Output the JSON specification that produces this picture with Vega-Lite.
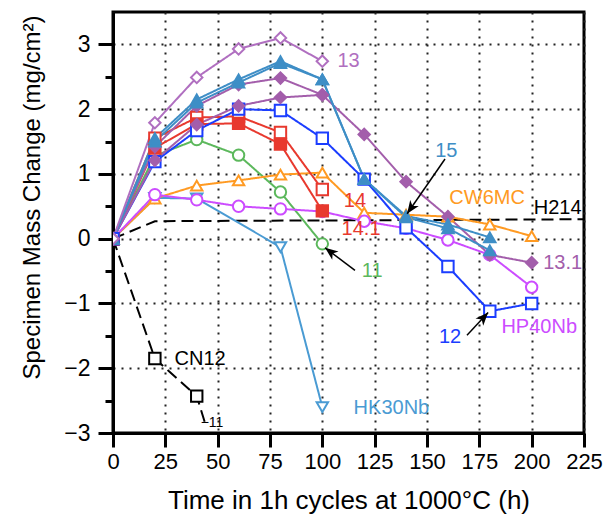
{
  "$schema": "https://vega.github.io/schema/vega-lite/v6.json",
  "width": 471,
  "height": 421,
  "autosize": {"type": "none"},
  "padding": {"left": 113, "top": 12, "right": 23, "bottom": 83},
  "background": "white",
  "config": {
    "view": {"stroke": "black", "strokeWidth": 3},
    "font": "Liberation Sans",
    "axis": {
      "domainColor": "black", "domainWidth": 3, "tickColor": "black", "tickWidth": 3,
      "labelColor": "black", "labelFont": "Liberation Sans", "labelFontSize": 23, "labelOverlap": false, "labelFlush": false,
      "titleFont": "Liberation Sans", "titleFontWeight": "normal", "titleColor": "black",
      "gridColor": "#222222", "gridDash": [2, 6], "gridWidth": 2, "gridOpacity": 1
    }
  },
  "datasets": {
    "d": [
      {"s": "H214", "x": 0, "y": 0}, {"s": "H214", "x": 20, "y": 0.27}, {"s": "H214", "x": 225, "y": 0.3},
      {"s": "CN12", "x": 0, "y": 0}, {"s": "CN12", "x": 20, "y": -1.85}, {"s": "CN12", "x": 40, "y": -2.43}, {"s": "CN12", "x": 44, "y": -2.85},
      {"s": "HK30Nb", "x": 0, "y": 0}, {"s": "HK30Nb", "x": 20, "y": 0.63}, {"s": "HK30Nb", "x": 40, "y": 0.62}, {"s": "HK30Nb", "x": 80, "y": -0.13}, {"s": "HK30Nb", "x": 100, "y": -2.6},
      {"s": "11", "x": 0, "y": 0}, {"s": "11", "x": 20, "y": 1.28}, {"s": "11", "x": 40, "y": 1.53}, {"s": "11", "x": 60, "y": 1.29}, {"s": "11", "x": 80, "y": 0.72}, {"s": "11", "x": 100, "y": -0.08},
      {"s": "CW6MC", "x": 0, "y": 0}, {"s": "CW6MC", "x": 20, "y": 0.62}, {"s": "CW6MC", "x": 40, "y": 0.82}, {"s": "CW6MC", "x": 60, "y": 0.9}, {"s": "CW6MC", "x": 80, "y": 0.99}, {"s": "CW6MC", "x": 100, "y": 1.02}, {"s": "CW6MC", "x": 120, "y": 0.4}, {"s": "CW6MC", "x": 140, "y": 0.37}, {"s": "CW6MC", "x": 160, "y": 0.34}, {"s": "CW6MC", "x": 180, "y": 0.22}, {"s": "CW6MC", "x": 200, "y": 0.04},
      {"s": "HP40Nb", "x": 0, "y": 0}, {"s": "HP40Nb", "x": 20, "y": 0.68}, {"s": "HP40Nb", "x": 40, "y": 0.6}, {"s": "HP40Nb", "x": 60, "y": 0.5}, {"s": "HP40Nb", "x": 80, "y": 0.46}, {"s": "HP40Nb", "x": 100, "y": 0.42}, {"s": "HP40Nb", "x": 120, "y": 0.27}, {"s": "HP40Nb", "x": 140, "y": 0.16}, {"s": "HP40Nb", "x": 160, "y": -0.02}, {"s": "HP40Nb", "x": 180, "y": -0.25}, {"s": "HP40Nb", "x": 200, "y": -0.75},
      {"s": "14", "x": 0, "y": 0}, {"s": "14", "x": 20, "y": 1.55}, {"s": "14", "x": 40, "y": 1.87}, {"s": "14", "x": 60, "y": 1.89}, {"s": "14", "x": 80, "y": 1.64}, {"s": "14", "x": 100, "y": 0.76},
      {"s": "14.1", "x": 0, "y": 0}, {"s": "14.1", "x": 20, "y": 1.4}, {"s": "14.1", "x": 40, "y": 1.77}, {"s": "14.1", "x": 60, "y": 1.78}, {"s": "14.1", "x": 80, "y": 1.46}, {"s": "14.1", "x": 100, "y": 0.43},
      {"s": "12", "x": 0, "y": 0}, {"s": "12", "x": 20, "y": 1.19}, {"s": "12", "x": 40, "y": 1.67}, {"s": "12", "x": 60, "y": 2.0}, {"s": "12", "x": 80, "y": 1.98}, {"s": "12", "x": 100, "y": 1.55}, {"s": "12", "x": 120, "y": 0.92}, {"s": "12", "x": 140, "y": 0.17}, {"s": "12", "x": 160, "y": -0.43}, {"s": "12", "x": 180, "y": -1.12}, {"s": "12", "x": 200, "y": -1.0},
      {"s": "13.1b", "x": 0, "y": 0}, {"s": "13.1b", "x": 20, "y": 1.21}, {"s": "13.1b", "x": 40, "y": 1.76}, {"s": "13.1b", "x": 60, "y": 2.05}, {"s": "13.1b", "x": 80, "y": 2.18}, {"s": "13.1b", "x": 100, "y": 2.22}, {"s": "13.1b", "x": 120, "y": 1.61}, {"s": "13.1b", "x": 140, "y": 0.88}, {"s": "13.1b", "x": 160, "y": 0.34}, {"s": "13.1b", "x": 180, "y": -0.25}, {"s": "13.1b", "x": 200, "y": -0.37},
      {"s": "13.1a", "x": 0, "y": 0}, {"s": "13.1a", "x": 20, "y": 1.42}, {"s": "13.1a", "x": 40, "y": 2.05}, {"s": "13.1a", "x": 60, "y": 2.38}, {"s": "13.1a", "x": 80, "y": 2.48}, {"s": "13.1a", "x": 100, "y": 2.22},
      {"s": "15b", "x": 0, "y": 0}, {"s": "15b", "x": 20, "y": 1.5}, {"s": "15b", "x": 40, "y": 2.1}, {"s": "15b", "x": 60, "y": 2.41}, {"s": "15b", "x": 80, "y": 2.71}, {"s": "15b", "x": 100, "y": 2.46}, {"s": "15b", "x": 120, "y": 0.92}, {"s": "15b", "x": 140, "y": 0.33}, {"s": "15b", "x": 160, "y": 0.16}, {"s": "15b", "x": 180, "y": -0.18},
      {"s": "15a", "x": 0, "y": 0}, {"s": "15a", "x": 20, "y": 1.55}, {"s": "15a", "x": 40, "y": 2.15}, {"s": "15a", "x": 60, "y": 2.46}, {"s": "15a", "x": 80, "y": 2.74}, {"s": "15a", "x": 100, "y": 2.46}, {"s": "15a", "x": 120, "y": 0.92}, {"s": "15a", "x": 140, "y": 0.35}, {"s": "15a", "x": 160, "y": 0.22}, {"s": "15a", "x": 180, "y": 0.02},
      {"s": "13", "x": 0, "y": 0}, {"s": "13", "x": 20, "y": 1.79}, {"s": "13", "x": 40, "y": 2.49}, {"s": "13", "x": 60, "y": 2.93}, {"s": "13", "x": 80, "y": 3.1}, {"s": "13", "x": 100, "y": 2.74}
    ],
    "labels": [
      {"t": "13", "s": "13", "x": 112.5, "y": 2.74},
      {"t": "15", "s": "15a", "x": 159.2, "y": 1.35},
      {"t": "CW6MC", "s": "CW6MC", "x": 178.7, "y": 0.635},
      {"t": "H214", "s": "H214", "x": 212.4, "y": 0.47},
      {"t": "14", "s": "14", "x": 115.6, "y": 0.585},
      {"t": "14.1", "s": "14.1", "x": 118.5, "y": 0.15},
      {"t": "11", "s": "11", "x": 123.8, "y": -0.5},
      {"t": "13.1", "s": "13.1b", "x": 214.8, "y": -0.38},
      {"t": "HP40Nb", "s": "HP40Nb", "x": 203.6, "y": -1.36},
      {"t": "12", "s": "12", "x": 161, "y": -1.52},
      {"t": "HK30Nb", "s": "HK30Nb", "x": 133, "y": -2.62},
      {"t": "CN12", "s": "CN12", "x": 41.6, "y": -1.85}
    ],
    "small": [
      {"t": "−11", "x": 47.3, "y": -2.85}
    ],
    "arrows": [
      {"x": 158.6, "y": 1.23, "hx": 140.5, "hy": 0.385, "a": 214.6},
      {"x": 115.6, "y": -0.49, "hx": 101.3, "hy": -0.14, "a": 307.4},
      {"x": 169.1, "y": -1.49, "hx": 179.2, "hy": -1.14, "a": 42.4}
    ]
  },
  "layer": [
    {
      "data": {"name": "d"},
      "mark": {"type": "line", "strokeWidth": 2, "clip": true},
      "encoding": {
        "x": {"field": "x", "type": "quantitative",
          "scale": {"domain": [0, 225], "nice": false, "zero": false},
          "axis": {"values": [0, 25, 50, 75, 100, 125, 150, 175, 200, 225], "tickSize": 14, "labelPadding": 4, "labelFontSize": 22,
            "grid": true, "title": "Time in 1h cycles at 1000°C (h)", "titleFontSize": 26, "titleY": 67, "titleBaseline": "middle"}},
        "y": {"field": "y", "type": "quantitative",
          "scale": {"domain": [-3, 3.5], "nice": false, "zero": false},
          "axis": {"values": [-3, -2, -1, 0, 1, 2, 3], "tickSize": 15, "labelPadding": 8, "grid": true,
            "title": "Specimen Mass Change (mg/cm²)", "titleFontSize": 24, "titleX": -81, "titleY": 185, "titleBaseline": "middle", "titleAngle": 270}},
        "color": {"field": "s", "type": "nominal", "legend": null,
          "scale": {"domain": ["13", "13.1a", "13.1b", "15a", "15b", "12", "14", "14.1", "11", "CW6MC", "HP40Nb", "HK30Nb", "H214", "CN12"],
            "range": ["#b06fc0", "#a35eab", "#a35eab", "#3e8ec6", "#3e8ec6", "#1b3dff", "#e8392e", "#e8392e", "#5cb85c", "#ff9a22", "#cc4cff", "#4a9bd3", "#000000", "#000000"]}},
        "strokeDash": {"field": "s", "type": "nominal", "legend": null,
          "scale": {"domain": ["13", "13.1a", "13.1b", "15a", "15b", "12", "14", "14.1", "11", "CW6MC", "HP40Nb", "HK30Nb", "H214", "CN12"],
            "range": [[1, 0], [1, 0], [1, 0], [1, 0], [1, 0], [1, 0], [1, 0], [1, 0], [1, 0], [1, 0], [1, 0], [1, 0], [12, 6], [12, 6]]}}
      }
    },
    {
      "data": {"name": "d"},
      "transform": [{"filter": "datum.s !== 'H214' && !(datum.s === 'CN12' && datum.x > 42)"}],
      "mark": {"type": "point", "filled": true, "size": 130, "strokeWidth": 2, "opacity": 1, "clip": true},
      "encoding": {
        "x": {"field": "x", "type": "quantitative", "scale": {"domain": [0, 225], "nice": false, "zero": false}},
        "y": {"field": "y", "type": "quantitative", "scale": {"domain": [-3, 3.5], "nice": false, "zero": false},
          "axis": {"values": [-2.5, -1.5, -0.5, 0.5, 1.5, 2.5], "tickSize": 8, "labels": false, "grid": false, "domain": false, "title": null, "orient": "left"}},
        "shape": {"field": "s", "type": "nominal", "legend": null,
          "scale": {"domain": ["13", "13.1a", "13.1b", "15a", "15b", "12", "14", "14.1", "11", "CW6MC", "HP40Nb", "HK30Nb", "H214", "CN12"],
            "range": ["diamond", "diamond", "diamond", "triangle-up", "triangle-up", "square", "square", "square", "circle", "triangle-up", "circle", "triangle-down", "circle", "square"]}},
        "stroke": {"field": "s", "type": "nominal", "legend": null,
          "scale": {"domain": ["13", "13.1a", "13.1b", "15a", "15b", "12", "14", "14.1", "11", "CW6MC", "HP40Nb", "HK30Nb", "H214", "CN12"],
            "range": ["#b06fc0", "#a35eab", "#a35eab", "#3e8ec6", "#3e8ec6", "#1b3dff", "#e8392e", "#e8392e", "#5cb85c", "#ff9a22", "#cc4cff", "#4a9bd3", "#000000", "#000000"]}},
        "fill": {"field": "s", "type": "nominal", "legend": null,
          "scale": {"domain": ["13", "13.1a", "13.1b", "15a", "15b", "12", "14", "14.1", "11", "CW6MC", "HP40Nb", "HK30Nb", "H214", "CN12"],
            "range": ["#ffffff", "#a35eab", "#a35eab", "#3e8ec6", "#3e8ec6", "#ffffff", "#ffffff", "#e8392e", "#ffffff", "#ffffff", "#ffffff", "#ffffff", "#ffffff", "#ffffff"]}}
      }
    },
    {
      "data": {"name": "arrows"},
      "mark": {"type": "rule", "color": "black", "strokeWidth": 1.5},
      "encoding": {
        "x": {"field": "x", "type": "quantitative", "scale": {"domain": [0, 225], "nice": false, "zero": false}},
        "y": {"field": "y", "type": "quantitative", "scale": {"domain": [-3, 3.5], "nice": false, "zero": false}, "axis": null},
        "x2": {"field": "hx"},
        "y2": {"field": "hy"}
      }
    },
    {
      "data": {"name": "arrows"},
      "mark": {"type": "point", "shape": "M0,0L-0.6,1.5L0,1.1L0.6,1.5Z", "filled": true, "color": "black", "size": 300, "opacity": 1, "strokeWidth": 0},
      "encoding": {
        "x": {"field": "hx", "type": "quantitative", "scale": {"domain": [0, 225], "nice": false, "zero": false}},
        "y": {"field": "hy", "type": "quantitative", "scale": {"domain": [-3, 3.5], "nice": false, "zero": false}, "axis": null},
        "angle": {"field": "a", "type": "quantitative", "scale": null}
      }
    },
    {
      "data": {"name": "labels"},
      "mark": {"type": "text", "fontSize": 20, "font": "Liberation Sans", "align": "center", "baseline": "middle"},
      "encoding": {
        "x": {"field": "x", "type": "quantitative", "scale": {"domain": [0, 225], "nice": false, "zero": false}},
        "y": {"field": "y", "type": "quantitative", "scale": {"domain": [-3, 3.5], "nice": false, "zero": false}, "axis": null},
        "text": {"field": "t"},
        "color": {"field": "s", "type": "nominal", "legend": null,
          "scale": {"domain": ["13", "13.1a", "13.1b", "15a", "15b", "12", "14", "14.1", "11", "CW6MC", "HP40Nb", "HK30Nb", "H214", "CN12"],
            "range": ["#b06fc0", "#a35eab", "#a35eab", "#3e8ec6", "#3e8ec6", "#1b3dff", "#e8392e", "#e8392e", "#5cb85c", "#ff9a22", "#cc4cff", "#4a9bd3", "#000000", "#000000"]}}
      }
    },
    {
      "data": {"name": "small"},
      "mark": {"type": "text", "fontSize": 14, "font": "Liberation Sans", "align": "center", "baseline": "middle", "color": "black"},
      "encoding": {
        "x": {"field": "x", "type": "quantitative", "scale": {"domain": [0, 225], "nice": false, "zero": false}},
        "y": {"field": "y", "type": "quantitative", "scale": {"domain": [-3, 3.5], "nice": false, "zero": false}, "axis": null},
        "text": {"field": "t"}
      }
    }
  ],
  "resolve": {"axis": {"y": "independent"}}
}
